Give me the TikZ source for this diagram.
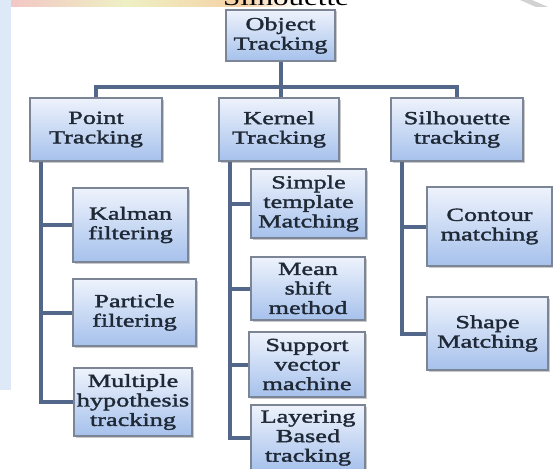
\documentclass[tikz,border=0pt]{standalone}
\usepackage{fontspec}
\newfontfamily\boxfont[FakeStretch=1.42,FakeBold=1.8]{Liberation Serif}
\newfontfamily\bannerfont[FakeStretch=1.35]{Liberation Serif}
\usetikzlibrary{shadows,backgrounds}
\definecolor{boxtop}{HTML}{EEF3FC}
\definecolor{boxbot}{HTML}{A6C1EC}
\definecolor{boxline}{HTML}{7B8596}
\definecolor{conncol}{HTML}{52678A}
\definecolor{txtcol}{HTML}{1F2835}
\definecolor{sidestrip}{HTML}{DDE9F6}
\definecolor{bandpink}{HTML}{F3C7C5}
\definecolor{bandyellow}{HTML}{EEF0C4}
\definecolor{bandorange}{HTML}{F5D2A6}
\begin{document}
\begin{tikzpicture}[x=1pt,y=-1pt,
  box/.style={draw=boxline, line width=1.2pt, top color=boxtop, bottom color=boxbot,
    inner sep=1pt, align=center, text=txtcol,
    font=\boxfont\fontsize{18.5}{19.5}\selectfont,
    drop shadow={shadow xshift=1.5pt, shadow yshift=-1.5pt, opacity=0.35, fill=black!60}},
  conn/.style={draw=conncol, line width=4pt}]
\useasboundingbox (0,0) rectangle (553,468);

% tree nodes
\node[box, minimum width=109pt, minimum height=51pt] (obj) at (280.5,35.5) {Object\\Tracking};
\node[box, minimum width=132pt, minimum height=63pt] (pt)  at (96,129.5)  {Point\\Tracking};
\node[box, minimum width=120pt, minimum height=63pt] (ker) at (279,129.5) {Kernel\\Tracking};
\node[box, minimum width=132pt, minimum height=63pt] (sil) at (457,129.5) {Silhouette\\tracking};
\node[box, minimum width=115pt, minimum height=74pt] (kal) at (130.5,225) {Kalman\\filtering};
\node[box, minimum width=123pt, minimum height=67pt] (par) at (134.5,312.5) {Particle\\filtering};
\node[box, minimum width=118pt, minimum height=68pt] (mul) at (133,402) {Multiple\\hypothesis\\tracking};
\node[box, minimum width=115pt, minimum height=69pt] (sim) at (308.5,203.5) {Simple\\template\\Matching};
\node[box, minimum width=114pt, minimum height=63pt] (mea) at (308,288.5) {Mean\\shift\\method};
\node[box, minimum width=116pt, minimum height=65pt] (sup) at (307,364.5) {Support\\vector\\machine};
\node[box, minimum width=114pt, minimum height=66pt] (lay) at (308,438) {Layering\\Based\\tracking};
\node[box, minimum width=125pt, minimum height=79pt] (con) at (489.5,226.5) {Contour\\matching};
\node[box, minimum width=121pt, minimum height=73pt] (sha) at (487.5,333.5) {Shape\\Matching};

\begin{pgfonlayer}{background}
  % page decoration
  \fill[white] (0,0) rectangle (553,468);
  \fill[sidestrip] (0,0) rectangle (11,390);
  \shade[left color=bandpink, right color=bandorange, middle color=bandyellow] (11,0) rectangle (240,7);
  \shade[left color=bandorange, right color=white] (240,0) rectangle (300,7);
  \fill[gray!35] (520,0) -- (532,0) -- (548,7) -- (536,7) -- cycle;
  \begin{scope}
    \clip (0,0) rectangle (553,7);
    \node[anchor=base, inner sep=0pt, font=\bannerfont\fontsize{23}{23}\selectfont] (banner) at (286,6) {Silhouette};
  \end{scope}

  % connectors
  \draw[conn] (obj.south) -- (obj.south |- ker.north);
  \draw[conn] (pt.north) -- ++(0,-10) -| (sil.north);
  \draw[conn] ([xshift=12pt]pt.south west) |- (kal.west);
  \draw[conn] ([xshift=12pt]pt.south west) |- (par.west);
  \draw[conn] ([xshift=12pt]pt.south west) |- (mul.west);
  \draw[conn] ([xshift=12pt]ker.south west) |- (sim.west);
  \draw[conn] ([xshift=12pt]ker.south west) |- (mea.west);
  \draw[conn] ([xshift=12pt]ker.south west) |- (sup.west);
  \draw[conn] ([xshift=12pt]ker.south west) |- (lay.west);
  \draw[conn] ([xshift=12pt]sil.south west) |- (con.west);
  \draw[conn] ([xshift=12pt]sil.south west) |- (sha.west);
\end{pgfonlayer}
\end{tikzpicture}
\end{document}
